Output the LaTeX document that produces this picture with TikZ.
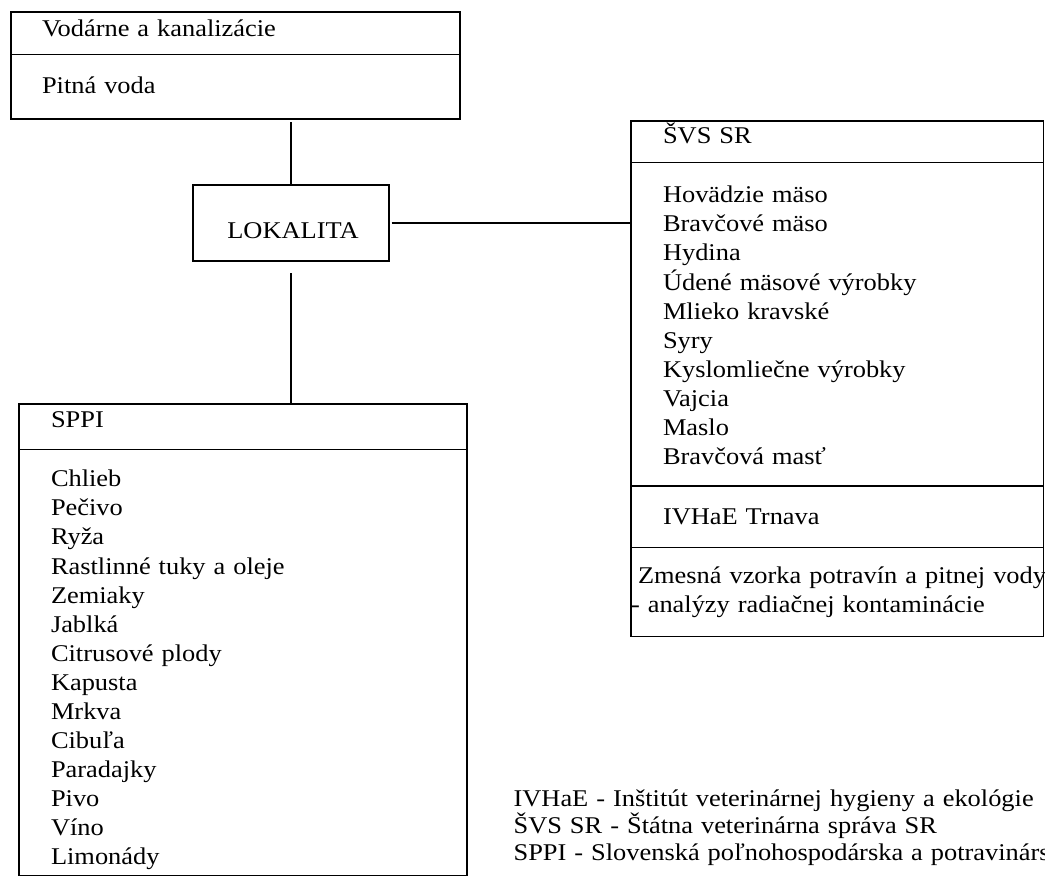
\documentclass[tikz,border=0pt]{standalone}
\usepackage{fontspec}
\setmainfont[FakeStretch=1.10]{Liberation Serif}
\usetikzlibrary{shapes, calc}

\newcommand{\upstrut}[1]{\rule{0pt}{#1}}
\newcommand{\downstrut}[1]{\rule[-#1]{0pt}{#1}}

\begin{document}
\begin{tikzpicture}[x=0.75pt, y=-0.75pt, line width=0.9pt]
			\tikzstyle{listbox}=[
			draw,
			rectangle split,
			rectangle split parts=2,
			inner ysep=0pt,
			inner xsep=24pt,
			outer sep=0pt,
			align=left,
			anchor=north west,
			font=\fontsize{18pt}{21.8pt}\selectfont
			]
			\tikzstyle{placebox}=[
			draw,
			rectangle,
			minimum width=147pt,
			minimum height=57pt,
			outer sep=0pt,
			anchor=north west,
			font=\fontsize{18pt}{21.8pt}\selectfont
			]
			\tikzstyle{legend}=[
			anchor=base west,
			inner sep=0pt,
			text width=440pt,
			align=left,
			font=\fontsize{18pt}{20.25pt}\selectfont
			]
			\useasboundingbox (0,0) rectangle (1045,877);
			\node[listbox, text width=290.25pt, inner xsep=23.25pt] (voda) at (11,12) {\upstrut{18pt}Vodárne a kanalizácie\downstrut{12.75pt}
			\nodepart{two}\upstrut{29pt}Pitná voda\downstrut{18.75pt}};
			\node[placebox] (lok) at (193,185) {\raisebox{-6pt}[\height][\depth]{\hspace*{3pt}LOKALITA}};
			\node[listbox, rectangle split parts=4, text width=261.5pt] (svs) at (631,121) {\upstrut{16.5pt}ŠVS SR\downstrut{13.5pt}
			\nodepart{two}\upstrut{30pt}Hovädzie mäso\\ Bravčové mäso\\ Hydina\\ Údené mäsové výrobky\\ Mlieko kravské\\ Syry\\ Kyslomliečne výrobky\\ Vajcia\\ Maslo\\ Bravčová masť\downstrut{15.75pt}
			\nodepart{three}\upstrut{28.5pt}IVHaE Trnava\downstrut{16.5pt}
			\nodepart{four}\upstrut{27pt}\hspace*{-18.75pt}\mbox{Zmesná vzorka potravín a pitnej vody}\\ \hspace*{-24pt}\mbox{- analýzy radiačnej kontaminácie}\downstrut{17.25pt}};
			\node[listbox, text width=288pt] (sppi) at (19,404) {\upstrut{17.25pt}SPPI\downstrut{15.75pt}
			\nodepart{two}\upstrut{27.75pt}Chlieb\\ Pečivo\\ Ryža\\ Rastlinné tuky a oleje\\ Zemiaky\\ Jablká\\ Citrusové plody\\ Kapusta\\ Mrkva\\ Cibuľa\\ Paradajky\\ Pivo\\ Víno\\ Limonády\downstrut{7.5pt}};
			%
			\draw[shorten >=2.5pt] (lok.north) -- (lok.north |- voda.south);
			\draw[shorten <=2pt] (lok.east) -- (lok.east -| svs.west);
			\draw[shorten <=9pt] (lok.south) -- (lok.south |- sppi.north);
			%
			\node[legend] (abbr) at (513,806) {IVHaE - Inštitút veterinárnej hygieny a ekológie\\ ŠVS SR - Štátna veterinárna správa SR\\ \mbox{SPPI - Slovenská poľnohospodárska a potravinárs}};
		\end{tikzpicture}
\end{document}
